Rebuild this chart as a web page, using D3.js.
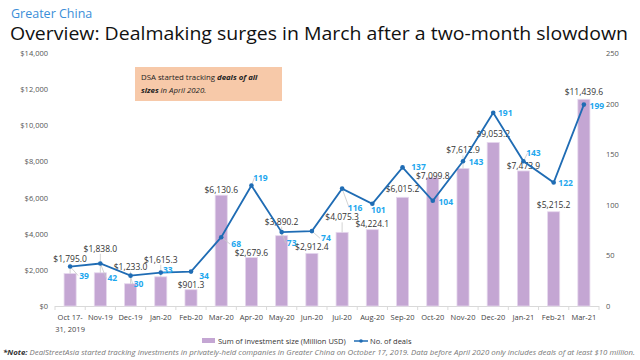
<!DOCTYPE html>
<html>
<head>
<meta charset="utf-8">
<script src="https://cdn.jsdelivr.net/npm/d3@7"></script>
<style>
  body { margin: 0; background: #fff; }
  svg { font-family: "Open Sans", "DejaVu Sans", sans-serif; }
</style>
</head>
<body>
<svg id="chart" width="640" height="360"></svg>
<script>
// data
const months = ['Oct 17-|31, 2019', 'Nov-19', 'Dec-19', 'Jan-20', 'Feb-20', 'Mar-20', 'Apr-20', 'May-20', 'Jun-20',
  'Jul-20', 'Aug-20', 'Sep-20', 'Oct-20', 'Nov-20', 'Dec-20', 'Jan-21', 'Feb-21', 'Mar-21'];
const investment = [1795.0, 1838.0, 1233.0, 1615.3, 901.3, 6130.6, 2679.6, 3890.2, 2912.4,
  4075.3, 4224.1, 6015.2, 7099.8, 7612.9, 9053.2, 7473.9, 5215.2, 11439.6];
const deals = [39, 42, 30, 33, 34, 68, 119, 73, 74, 116, 101, 137, 104, 143, 191, 143, 122, 199];
const leftTicks = [0, 2000, 4000, 6000, 8000, 10000, 12000, 14000];
const rightTicks = [0, 50, 100, 150, 200, 250];

// label placement nudges (px), copied by eye so labels clear the line like the original
const barLabelLift = [15, 24, 17, 17, 5, 5.5, 5, 14, 6.5, 15, 6, 8, 2, 18, 8.5, 5, 7, 7.5];
const dealLabelPos = [[14, 9], [12, 15], [8, 8.5], [7, -3], [13, 4], [15, 7], [9, -8], [10, 11], [14, 7],
  [13, 19], [6, 6.5], [16, 0], [13, 1], [13, 0.5], [12, 0.5], [10, -8], [12, 0.5], [13, 1]];

const svg = d3.select('#chart');
const margin = {top: 53, right: 41, bottom: 54, left: 55};
const W = 640, H = 360;

const x = d3.scaleBand()
  .domain(months)
  .range([margin.left, W - margin.right])
  .paddingInner(0.6)
  .paddingOuter(0.3);
const cx = i => x(months[i]) + x.bandwidth() / 2;

const yL = d3.scaleLinear().domain([0, 14000]).range([H - margin.bottom, margin.top]);
const yR = d3.scaleLinear().domain([0, 250]).range([H - margin.bottom, margin.top]);

const barColor = '#c4a6d3';
const lineColor = '#1f6cb4';
const dealColor = '#1ea7ee';
const fmt = d3.format(',.1f');

// titles
svg.append('text').attr('x', 11).attr('y', 18)
  .attr('font-size', 12.5).attr('fill', '#3b8ed8')
  .text('Greater China');
svg.append('text').attr('x', 10).attr('y', 40)
  .attr('font-size', 19).attr('font-weight', 500).attr('fill', '#111')
  .attr('textLength', 618).attr('lengthAdjust', 'spacingAndGlyphs')
  .text('Overview: Dealmaking surges in March after a two-month slowdown');

// left axis
svg.append('g').selectAll('text')
  .data(leftTicks)
  .enter().append('text')
  .attr('x', 48)
  .attr('y', d => yL(d) + 3)
  .attr('text-anchor', 'end')
  .attr('font-size', 7.5)
  .attr('fill', '#555')
  .text(d => '$' + d3.format(',')(d));

// right axis
svg.append('g').selectAll('text')
  .data(rightTicks)
  .enter().append('text')
  .attr('x', 606)
  .attr('y', d => yR(d) + 3)
  .attr('font-size', 7.5)
  .attr('fill', '#555')
  .text(d => d);

// x axis
const x0 = margin.left, x1 = W - margin.right;
svg.append('line')
  .attr('x1', x0).attr('x2', x1)
  .attr('y1', yL(0) + 0.5).attr('y2', yL(0) + 0.5)
  .attr('stroke', '#d9d9d9');
svg.append('g').selectAll('line')
  .data(d3.range(months.length + 1))
  .enter().append('line')
  .attr('x1', i => x0 + i * (x1 - x0) / months.length)
  .attr('x2', i => x0 + i * (x1 - x0) / months.length)
  .attr('y1', yL(0)).attr('y2', yL(0) + 4)
  .attr('stroke', '#d9d9d9');

svg.append('g').selectAll('text')
  .data(months)
  .enter().append('text')
  .attr('y', yL(0) + 14)
  .attr('text-anchor', 'middle')
  .attr('font-size', 7.5)
  .attr('fill', '#444')
  .each(function(d, i) {
    const t = d3.select(this);
    d.split('|').forEach((p, k) => {
      t.append('tspan').attr('x', cx(i)).attr('dy', k ? 12 : 0).text(p);
    });
  });

// bars
svg.append('g').selectAll('rect')
  .data(investment)
  .enter().append('rect')
  .attr('x', (d, i) => x(months[i]))
  .attr('y', d => yL(d))
  .attr('width', x.bandwidth())
  .attr('height', d => yL(0) - yL(d))
  .attr('fill', barColor)
  .attr('stroke', '#e6d8ee')
  .attr('stroke-width', 0.8);

// leader lines for lifted bar labels
const barIdx = d3.range(investment.length).filter(i => barLabelLift[i] >= 14);
svg.append('g').selectAll('line')
  .data(barIdx)
  .enter().append('line')
  .attr('x1', i => cx(i)).attr('x2', i => cx(i))
  .attr('y1', i => yL(investment[i]) - barLabelLift[i] + 5)
  .attr('y2', i => yL(investment[i]))
  .attr('stroke', '#c8c8c8')
  .attr('stroke-width', 0.8);

// leader lines for pushed deal labels
const dealIdx = d3.range(deals.length).filter(i => Math.abs(dealLabelPos[i][1]) >= 7);
svg.append('g').selectAll('line')
  .data(dealIdx)
  .enter().append('line')
  .attr('x1', i => cx(i)).attr('y1', i => yR(deals[i]))
  .attr('x2', i => cx(i) + dealLabelPos[i][0] - 6)
  .attr('y2', i => yR(deals[i]) + dealLabelPos[i][1])
  .attr('stroke', '#c8c8c8')
  .attr('stroke-width', 0.8);

// bar labels
svg.append('g').selectAll('text')
  .data(investment)
  .enter().append('text')
  .attr('x', (d, i) => cx(i))
  .attr('y', (d, i) => yL(d) - barLabelLift[i] + 3)
  .attr('text-anchor', 'middle')
  .attr('font-size', 8.5)
  .attr('fill', '#333')
  .text(d => '$' + fmt(d));

// deals line
const line = d3.line()
  .x((d, i) => cx(i))
  .y(d => yR(d));
svg.append('path')
  .datum(deals)
  .attr('d', line)
  .attr('fill', 'none')
  .attr('stroke', lineColor)
  .attr('stroke-width', 1.8);
svg.append('g').selectAll('circle')
  .data(deals)
  .enter().append('circle')
  .attr('cx', (d, i) => cx(i))
  .attr('cy', d => yR(d))
  .attr('r', 2.3)
  .attr('fill', lineColor);

// deal labels
svg.append('g').selectAll('text')
  .data(deals)
  .enter().append('text')
  .attr('x', (d, i) => cx(i) + dealLabelPos[i][0])
  .attr('y', (d, i) => yR(d) + 3 + dealLabelPos[i][1])
  .attr('text-anchor', 'middle')
  .attr('font-size', 8.5)
  .attr('font-weight', 700)
  .attr('fill', dealColor)
  .text(d => d);

// annotation box
svg.append('rect')
  .attr('x', 135).attr('y', 67).attr('width', 147).attr('height', 34)
  .attr('fill', '#f7c9a9');
const note1 = svg.append('text').attr('x', 141).attr('y', 80)
  .attr('font-size', 7.8).attr('fill', '#222');
note1.append('tspan').text('DSA started tracking ');
note1.append('tspan').attr('font-weight', 700).attr('font-style', 'italic').text('deals of all');
const note2 = svg.append('text').attr('x', 141).attr('y', 93)
  .attr('font-size', 7.8).attr('fill', '#222');
note2.append('tspan').attr('font-weight', 700).attr('font-style', 'italic').text('sizes');
note2.append('tspan').attr('font-style', 'italic').text(' in April 2020.');

// legend
svg.append('rect').attr('x', 202).attr('y', 338).attr('width', 13).attr('height', 5).attr('fill', barColor);
svg.append('text').attr('x', 218).attr('y', 343.5).attr('font-size', 7.5).attr('fill', '#333')
  .text('Sum of investment size (Million USD)');
svg.append('line').attr('x1', 354).attr('x2', 368).attr('y1', 341).attr('y2', 341)
  .attr('stroke', lineColor).attr('stroke-width', 1.5);
svg.append('circle').attr('cx', 361).attr('cy', 341).attr('r', 1.8).attr('fill', lineColor);
svg.append('text').attr('x', 370).attr('y', 343.5).attr('font-size', 7.5).attr('fill', '#333')
  .text('No. of deals');

// footnote
const foot = svg.append('text').attr('x', 3).attr('y', 355)
  .attr('font-size', 7).attr('font-style', 'italic').attr('fill', '#777')
  .attr('textLength', 632).attr('lengthAdjust', 'spacingAndGlyphs');
foot.append('tspan').attr('font-weight', 700).attr('fill', '#333').text('*Note: ');
foot.append('tspan').text('DealStreetAsia started tracking investments in privately-held companies in Greater China on October 17, 2019. Data before April 2020 only includes deals of at least $10 million.');
</script>
</body>
</html>
